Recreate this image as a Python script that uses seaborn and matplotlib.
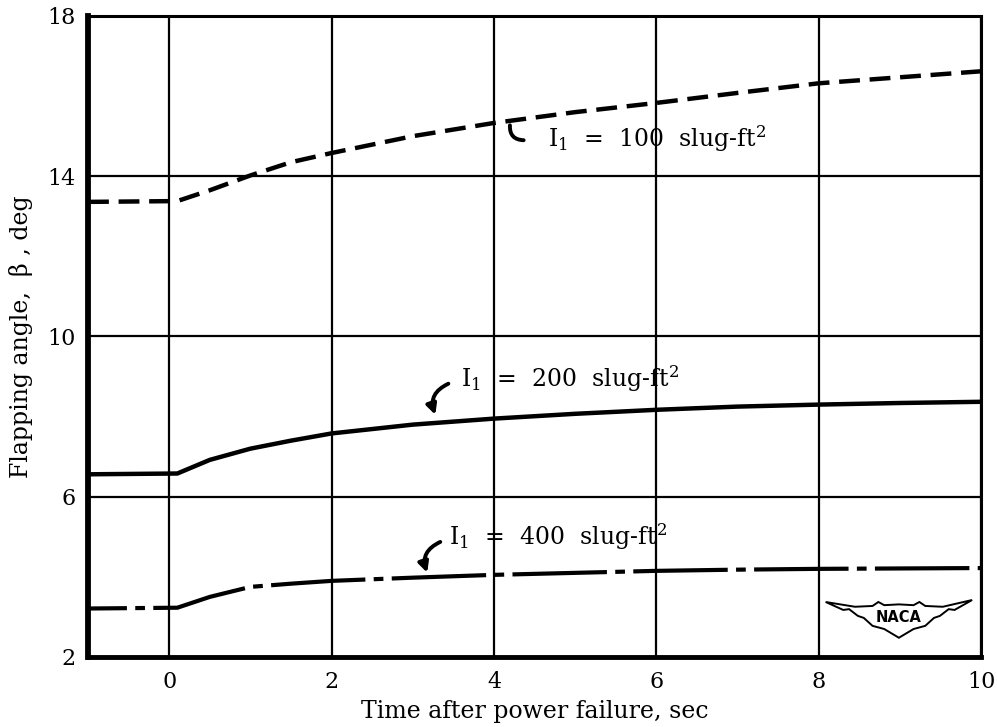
import matplotlib
matplotlib.use("Agg")
import matplotlib.pyplot as plt
import numpy as np
import pandas as pd
import seaborn as sns

# valeurs
time_s = [-1, 0.1, 0.5, 1, 1.5, 2, 3, 4, 5, 6, 7, 8, 9, 10]
beta_100 = [13.36, 13.38, 13.65, 14.02, 14.35, 14.58, 15.0, 15.33, 15.6, 15.83, 16.08, 16.32, 16.47, 16.62]
beta_200 = [6.56, 6.58, 6.92, 7.2, 7.4, 7.58, 7.8, 7.95, 8.07, 8.17, 8.25, 8.3, 8.34, 8.37]
beta_400 = [3.21, 3.23, 3.5, 3.75, 3.83, 3.9, 3.98, 4.05, 4.1, 4.15, 4.18, 4.2, 4.21, 4.22]

x_ticks = [0, 2, 4, 6, 8, 10]
y_ticks = [2, 6, 10, 14, 18]

sns.set_theme(style="white")
plt.rcParams['font.family'] = ['DejaVu Serif']
plt.rcParams['mathtext.fontset'] = 'dejavuserif'
plt.rcParams['lines.scale_dashes'] = False
plt.rcParams['text.color'] = 'black'
plt.rcParams['axes.labelcolor'] = 'black'

fig = plt.figure(figsize=(9.97, 7.27), dpi=100)
ax = fig.add_axes([0.0883, 0.0963, 0.8957, 0.8817])

df = pd.DataFrame({"t": time_s, "b100": beta_100, "b200": beta_200, "b400": beta_400})

sns.lineplot(data=df, x="t", y="b100", ax=ax, color="black", lw=3.2, errorbar=None)
sns.lineplot(data=df, x="t", y="b200", ax=ax, color="black", lw=3.2, errorbar=None)
sns.lineplot(data=df, x="t", y="b400", ax=ax, color="black", lw=3.0, errorbar=None)
lines = ax.get_lines()
lines[0].set_linestyle((0, (15, 7)))
lines[2].set_linestyle((40, (68, 6, 7, 6)))

ax.set_xlim(-1, 10)
ax.set_ylim(2, 18)
ax.set_xticks(x_ticks)
ax.set_yticks(y_ticks)
ax.tick_params(axis="both", length=0, labelsize=16, colors="black")
ax.tick_params(axis="x", pad=10)
ax.tick_params(axis="y", pad=9)
ax.grid(True, color="black", lw=1.6)

for side, w in [("left", 4.2), ("bottom", 3.5), ("top", 2.2), ("right", 2.2)]:
    ax.spines[side].set_visible(True)
    ax.spines[side].set_color("black")
    ax.spines[side].set_linewidth(w)

ax.set_xlabel("Time after power failure, sec", fontsize=17, labelpad=5)
ax.set_ylabel("Flapping angle,  β , deg", fontsize=17, labelpad=10)

# etiquettes des courbes
ax.text(4.66, 14.95, r"I$_1$  =  100  slug-ft$^2$", fontsize=17, va="center")
ax.text(3.6, 8.95, r"I$_1$  =  200  slug-ft$^2$", fontsize=17, va="center")
ax.text(3.45, 5.0, r"I$_1$  =  400  slug-ft$^2$", fontsize=17, va="center")

ax.annotate("", xy=(4.2, 15.34), xytext=(4.4, 14.9),
            arrowprops=dict(arrowstyle="-", lw=2.8, color="black",
                            connectionstyle="arc3,rad=-0.6"))
ax.annotate("", xy=(3.29, 7.98), xytext=(3.47, 8.85),
            arrowprops=dict(arrowstyle="-|>", lw=2.8, color="black", mutation_scale=15,
                            connectionstyle="arc3,rad=0.5"))
ax.annotate("", xy=(3.19, 4.04), xytext=(3.37, 4.9),
            arrowprops=dict(arrowstyle="-|>", lw=2.8, color="black", mutation_scale=15,
                            connectionstyle="arc3,rad=0.5"))

# logo NACA (approximatif), en coordonnees d'axes
logo_x = [0.0, 0.2, 0.32, 0.36, 0.4, 0.5, 0.6, 0.64, 0.68, 0.8, 1.0,
          0.88, 0.84, 0.78, 0.74, 0.68, 0.6, 0.5, 0.4, 0.32, 0.26, 0.22, 0.16, 0.12, 0.0]
logo_y = [0.9, 0.78, 0.8, 0.9, 0.82, 0.84, 0.82, 0.9, 0.8, 0.78, 0.95,
          0.7, 0.72, 0.55, 0.5, 0.3, 0.22, 0.0, 0.22, 0.3, 0.5, 0.55, 0.72, 0.7, 0.9]
x0, w0, y0, h0 = 0.826, 0.164, 0.03, 0.062
wing = plt.Polygon(np.column_stack([x0 + np.array(logo_x) * w0, y0 + np.array(logo_y) * h0]),
                   closed=True, fill=False, ec="black", lw=1.4, transform=ax.transAxes)
ax.add_patch(wing)
ax.text(x0 + 0.5 * w0, y0 + 0.52 * h0, "NACA", transform=ax.transAxes, fontsize=10.5,
        fontweight="bold", family="DejaVu Sans", ha="center", va="center")

fig.savefig("out.png", dpi=100)
